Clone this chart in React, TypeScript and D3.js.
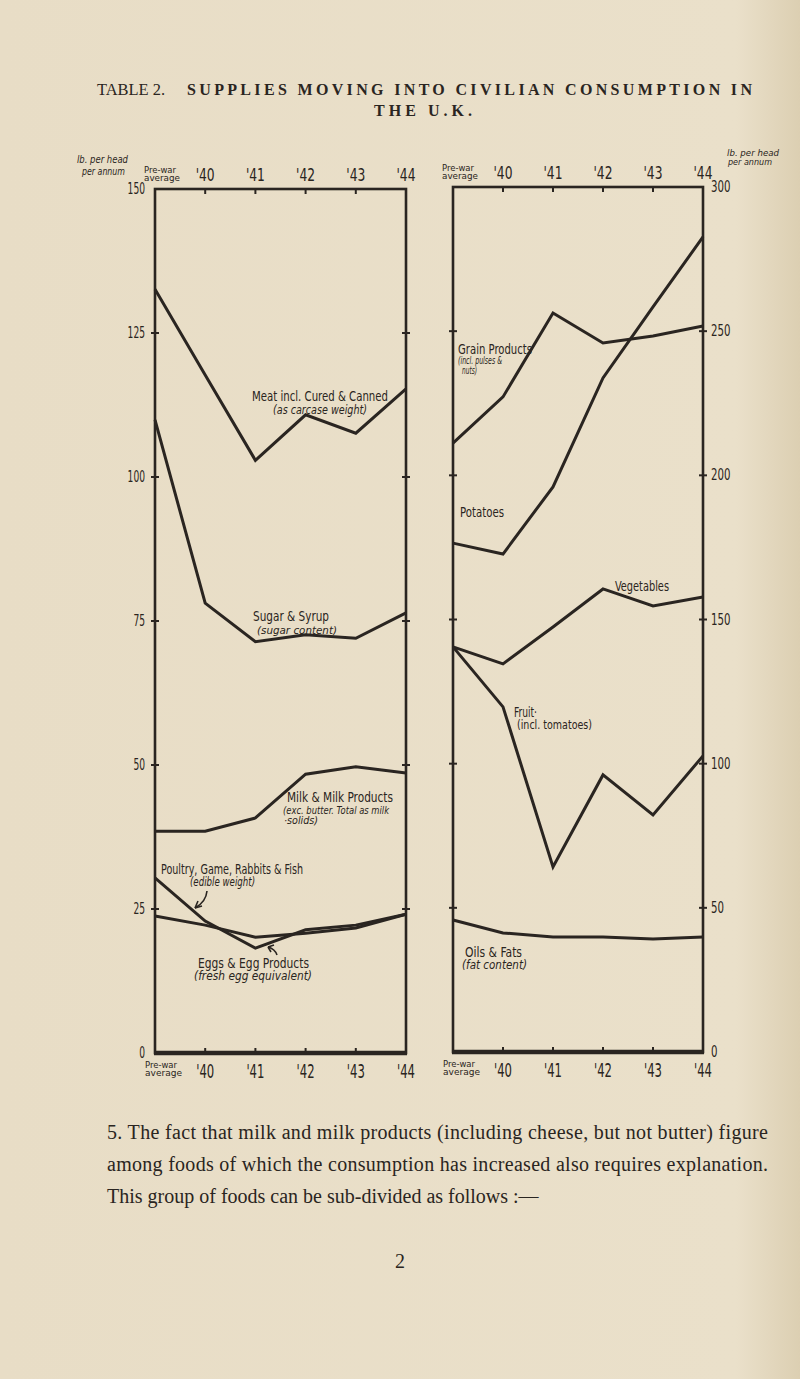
import React from "react";
import * as d3 from "d3";

// years along both charts
const years = ["Pre-war", "'40", "'41", "'42", "'43", "'44"];

// left chart, lb. per head per annum (0-150)
const meat = [132.6, 117.7, 102.9, 110.8, 107.6, 115.3];
const sugar = [109.9, 78.1, 71.4, 72.6, 72.0, 76.4];
const milk = [38.5, 38.5, 40.8, 48.4, 49.7, 48.6];
const poultry = [30.4, 22.9, 18.2, 21.4, 22.2, 24.1];
const eggs = [23.8, 22.2, 20.1, 20.8, 21.7, 24.1];

// right chart, lb. per head per annum (0-300)
const grain = [211.2, 227.2, 256.3, 245.9, 248.3, 251.8];
const potatoes = [176.5, 172.7, 196.0, 233.8, 258.4, 282.7];
const vegetables = [140.5, 134.6, 147.4, 160.6, 154.7, 157.8];
const fruit = [140.5, 119.7, 64.2, 96.1, 82.2, 102.7];
const oils = [45.8, 41.3, 39.9, 39.9, 39.2, 39.9];

const leftTicks = [0, 25, 50, 75, 100, 125, 150];
const rightTicks = [0, 50, 100, 150, 200, 250, 300];

const INK = "#2a2521";
const HAND = "'DejaVu Sans Condensed', 'DejaVu Sans', sans-serif";
const SERIF = "'Liberation Serif', 'DejaVu Serif', serif";

type Panel = {
  x: d3.ScalePoint<string>;
  y: d3.ScaleLinear<number, number>;
  ticks: number[];
  side: "left" | "right";
};

function Frame({ x, y, ticks, side }: Panel) {
  const [x0, x1] = x.range();
  const [yb, yt] = y.range();
  return (
    <g stroke={INK} fill="none">
      <rect x={x0} y={yt} width={x1 - x0} height={yb - yt} strokeWidth={2.6} />
      <line x1={x0 - 1} x2={x1 + 1} y1={yb} y2={yb} strokeWidth={4.5} />
      {years.slice(1, -1).map((yr) => (
        <g key={yr}>
          <line x1={x(yr)} x2={x(yr)} y1={yt} y2={yt + 5} strokeWidth={2} />
          <line x1={x(yr)} x2={x(yr)} y1={yb} y2={yb - 5} strokeWidth={2} />
        </g>
      ))}
      {ticks.slice(1, -1).map((t) => (
        <g key={t}>
          <line x1={x0 - 4} x2={x0 + 4} y1={y(t)} y2={y(t)} strokeWidth={2} />
          <line x1={x1 - 4} x2={x1 + 4} y1={y(t)} y2={y(t)} strokeWidth={2} />
        </g>
      ))}
      <g fill={INK} stroke="none" fontFamily={HAND}>
        {ticks.map((t) => {
          const w = String(t).length * (side === "left" ? 5.8 : 6.5);
          return (
            <text
              key={t}
              x={side === "left" ? x0 - 10 - w : x1 + 8}
              y={y(t) + 5}
              fontSize={15}
              textLength={w}
              lengthAdjust="spacingAndGlyphs"
            >
              {t}
            </text>
          );
        })}
      </g>
    </g>
  );
}

function YearLabels({ x, top, bottom }: { x: d3.ScalePoint<string>; top: number; bottom: number }) {
  return (
    <g fill={INK} fontFamily={HAND}>
      {years.map((yr, i) =>
        i === 0 ? (
          <g key={yr} fontSize={9}>
            <text x={x(yr)! - 11} y={top - 8.5} textLength={32} lengthAdjust="spacingAndGlyphs">Pre-war</text>
            <text x={x(yr)! - 11} y={top} textLength={36} lengthAdjust="spacingAndGlyphs">average</text>
            <text x={x(yr)! - 10} y={bottom - 8.5} textLength={32} lengthAdjust="spacingAndGlyphs">Pre-war</text>
            <text x={x(yr)! - 10} y={bottom} textLength={37} lengthAdjust="spacingAndGlyphs">average</text>
          </g>
        ) : (
          <g key={yr}>
            <text x={x(yr)! - 9.5} y={top} fontSize={17} textLength={19} lengthAdjust="spacingAndGlyphs">{yr}</text>
            <text x={x(yr)! - 9} y={bottom + 2} fontSize={19} textLength={18} lengthAdjust="spacingAndGlyphs">{yr}</text>
          </g>
        )
      )}
    </g>
  );
}

function Series({ panel, values }: { panel: Panel; values: number[] }) {
  const line = d3
    .line<number>()
    .x((_, i) => panel.x(years[i])!)
    .y((v) => panel.y(v));
  return <path d={line(values)!} fill="none" stroke={INK} strokeWidth={3} strokeLinejoin="miter" />;
}

// a label squeezed to the width measured on the page
function Lab({ x, y, w, size, italic, children }: { x: number; y: number; w: number; size: number; italic?: boolean; children: React.ReactNode }) {
  return (
    <text x={x} y={y} fontSize={size} fontStyle={italic ? "italic" : undefined} textLength={w} lengthAdjust="spacingAndGlyphs">
      {children}
    </text>
  );
}

export default function App() {
  const left: Panel = {
    x: d3.scalePoint<string>().domain(years).range([155, 406]),
    y: d3.scaleLinear().domain([0, 150]).range([1053, 189]),
    ticks: leftTicks,
    side: "left",
  };
  const right: Panel = {
    x: d3.scalePoint<string>().domain(years).range([453, 703]),
    y: d3.scaleLinear().domain([0, 300]).range([1052, 187]),
    ticks: rightTicks,
    side: "right",
  };

  return (
    <svg
      width={800}
      height={1379}
      viewBox="0 0 800 1379"
      style={{ position: "absolute", left: 0, top: 0 }}
    >
      <defs>
        <linearGradient id="paper" x1="0" x2="1" y1="0" y2="0">
          <stop offset="0" stopColor="#e8ddc6" />
          <stop offset="0.92" stopColor="#eae0ca" />
          <stop offset="1" stopColor="#dccfb2" />
        </linearGradient>
      </defs>
      <rect width={800} height={1379} fill="url(#paper)" />

      {/* title */}
      <g fill={INK} fontFamily={SERIF} fontSize={16}>
        <text x={97} y={95} textLength={68} lengthAdjust="spacingAndGlyphs">TABLE 2.</text>
        <text x={187} y={95} textLength={568} letterSpacing={3} fontWeight="bold">
          SUPPLIES MOVING INTO CIVILIAN CONSUMPTION IN
        </text>
        <text x={425} y={116} textAnchor="middle" letterSpacing={4} fontWeight="bold">
          THE U.K.
        </text>
      </g>

      {/* units */}
      <g fill={INK} fontFamily={HAND} fontStyle="italic">
        <Lab x={77} y={163} w={51} size={10}>lb. per head</Lab>
        <Lab x={82} y={175} w={43} size={10}>per annum</Lab>
        <Lab x={727} y={156} w={52} size={8}>lb. per head</Lab>
        <Lab x={728} y={165} w={44} size={8}>per annum</Lab>
      </g>

      <Frame {...left} />
      <Frame {...right} />
      <YearLabels x={left.x} top={181} bottom={1076} />
      <YearLabels x={right.x} top={179} bottom={1075} />

      {[meat, sugar, milk, poultry, eggs].map((s, i) => (
        <Series key={"l" + i} panel={left} values={s} />
      ))}
      {[grain, potatoes, vegetables, fruit, oils].map((s, i) => (
        <Series key={"r" + i} panel={right} values={s} />
      ))}

      {/* series labels, left chart */}
      <g fill={INK} fontFamily={HAND}>
        <Lab x={252} y={401} w={136} size={14}>Meat incl. Cured &amp; Canned</Lab>
        <Lab x={273} y={414} w={94} size={11.5} italic>(as carcase weight)</Lab>
        <Lab x={253} y={621} w={76} size={14}>Sugar &amp; Syrup</Lab>
        <Lab x={257} y={634} w={80} size={11} italic>(sugar content)</Lab>
        <Lab x={287} y={802} w={106} size={14}>Milk &amp; Milk Products</Lab>
        <Lab x={283} y={814} w={106} size={10.5} italic>(exc. butter. Total as milk</Lab>
        <Lab x={284} y={824} w={34} size={10.5} italic>·solids)</Lab>
        <Lab x={161} y={874} w={142} size={13.5}>Poultry, Game, Rabbits &amp; Fish</Lab>
        <Lab x={190} y={886} w={65} size={11.5} italic>(edible weight)</Lab>
        <Lab x={198} y={968} w={111} size={14}>Eggs &amp; Egg Products</Lab>
        <Lab x={194} y={980} w={118} size={12} italic>(fresh egg equivalent)</Lab>
      </g>
      <g fill="none" stroke={INK} strokeWidth={1.6}>
        <path d="M207,891 Q206,902 195,908" />
        <path d="M195,908 l3,-7 M195,908 l7,-2" />
        <path d="M277,955 Q275,949 268,947" />
        <path d="M268,947 l6,-2 M268,947 l3,5" />
      </g>

      {/* series labels, right chart */}
      <g fill={INK} fontFamily={HAND}>
        <Lab x={458} y={354} w={74} size={14}>Grain Products</Lab>
        <Lab x={458} y={364} w={44} size={10} italic>(incl. pulses &amp;</Lab>
        <Lab x={462} y={374} w={15} size={10} italic>nuts)</Lab>
        <Lab x={460} y={517} w={44} size={14}>Potatoes</Lab>
        <Lab x={615} y={591} w={54} size={14}>Vegetables</Lab>
        <Lab x={514} y={717} w={23} size={14}>Fruit·</Lab>
        <Lab x={517} y={729} w={75} size={11.5}>(incl. tomatoes)</Lab>
        <Lab x={465} y={957} w={57} size={14}>Oils &amp; Fats</Lab>
        <Lab x={462} y={969} w={65} size={12} italic>(fat content)</Lab>
      </g>

      {/* page text */}
      <g fill={INK} fontFamily={SERIF} fontSize={20}>
        <text x={107} y={1139} textLength={661} lengthAdjust="spacing">
          5. The fact that milk and milk products (including cheese, but not butter) figure
        </text>
        <text x={107} y={1171} textLength={661} lengthAdjust="spacing">
          among foods of which the consumption has increased also requires explanation.
        </text>
        <text x={107} y={1203}>This group of foods can be sub-divided as follows :—</text>
        <text x={400} y={1268} textAnchor="middle" fontSize={20}>2</text>
      </g>
    </svg>
  );
}
